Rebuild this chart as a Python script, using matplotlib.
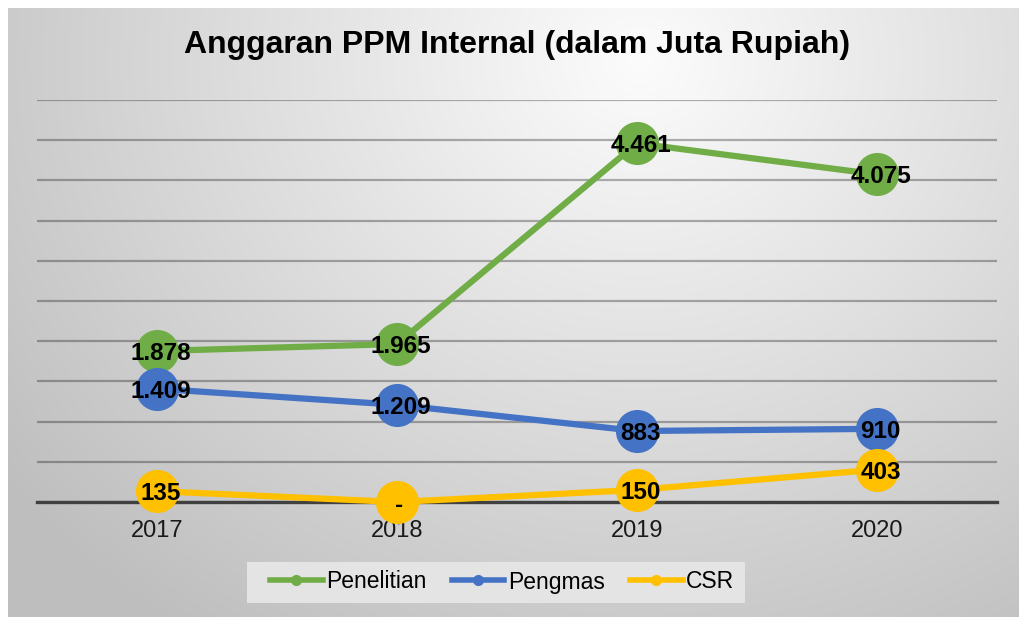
import numpy as np
import matplotlib
matplotlib.use("Agg")
import matplotlib.pyplot as plt
from matplotlib.lines import Line2D
from matplotlib.patches import Rectangle

plt.rcParams['font.family'] = ['Liberation Sans', 'DejaVu Sans']

# data
years = ["2017", "2018", "2019", "2020"]
penelitian = [1878, 1965, 4461, 4075]
pengmas = [1409, 1209, 883, 910]
csr = [135, 0, 150, 403]

series = [("Penelitian", penelitian, "#70AD47"),
          ("Pengmas", pengmas, "#4472C4"),
          ("CSR", csr, "#FFC000")]


def fmt(v):
    if v == 0:
        return "-"
    return "{:,}".format(v).replace(",", ".")


W, H = 1020, 617
fig = plt.figure(figsize=(W / 100, H / 100), dpi=100)
fig.patch.set_facecolor("white")

# gradient background of the chart area
bg = fig.add_axes([8 / W, 0, 1 - 8 / W, 1 - 8 / H], zorder=-5)
xx, yy = np.meshgrid(np.arange(8, W), np.arange(8, H))
d = np.sqrt((xx - 640.0) ** 2 + ((yy - 60.0) * 1.15) ** 2)
val = np.clip(252 - 0.077 * d, 190, 255) / 255.0
img = np.dstack([val, val, val])
bg.imshow(img, extent=[0, 1, 0, 1], aspect="auto", origin="upper")
bg.set_axis_off()

ax = fig.add_axes([37 / W, 1 - 502 / H, 960 / W, 402 / H])
ax.patch.set_alpha(0)
x = np.arange(len(years))

for name, vals, col in series:
    ax.plot(x, vals, color=col, lw=4.5, marker="o", ms=30, zorder=3,
            solid_capstyle="round", clip_on=False)

for name, vals, col in series:
    for xi, v in zip(x, vals):
        if v == 0:
            ax.text(xi + 0.01, v - 40, fmt(v), ha="center", va="center",
                    fontsize=17.5, fontweight="bold", color="black", zorder=5)
        else:
            ax.text(xi + 0.015, v - 30, fmt(v), ha="center", va="center",
                    fontsize=17.5, fontweight="bold", color="black", zorder=5)

ax.set_xlim(-0.5, 3.5)
ax.set_ylim(0, 5000)
ax.set_yticks(np.arange(0, 5001, 500))
ax.yaxis.grid(True, color="black", alpha=0.3, lw=1.6, zorder=0)
ax.set_axisbelow(True)
ax.tick_params(axis="y", length=0, labelleft=False)
ax.tick_params(axis="x", length=0, pad=13, labelsize=17, labelcolor="#1a1a1a")
ax.set_xticks(x)
ax.set_xticklabels(years)
for s in ["top", "right", "left"]:
    ax.spines[s].set_visible(False)
ax.spines["bottom"].set_color("#404040")
ax.spines["bottom"].set_linewidth(2.4)
ax.spines["bottom"].set_zorder(2)

fig.text(517 / W, 1 - 45 / H, "Anggaran PPM Internal (dalam Juta Rupiah)",
         ha="center", va="center", fontsize=23, fontweight="bold", color="black")

# legend box
fig.patches.append(Rectangle((247 / W, 1 - 603 / H), 498 / W, 41 / H,
                             transform=fig.transFigure, facecolor="#e4e4e4",
                             edgecolor="none", zorder=0))

handles = [Line2D([0], [0], color=col, lw=4, marker="o", ms=7) for _, _, col in series]
leg = fig.legend(handles, [s[0] for s in series], loc="center",
                 bbox_to_anchor=(502 / W, 1 - 582 / H), ncol=3, frameon=False,
                 fontsize=16.5, handlelength=2.3, handletextpad=0.15,
                 columnspacing=1.1, borderpad=0.2)

fig.savefig("out.png", dpi=100)
